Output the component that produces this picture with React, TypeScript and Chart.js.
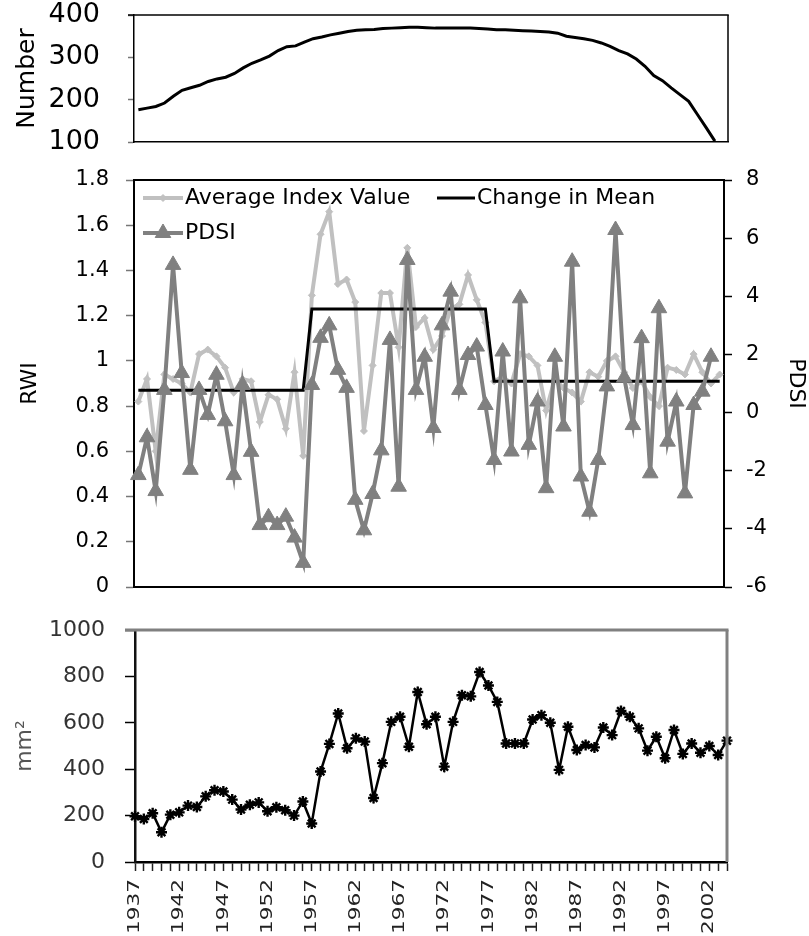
import { useEffect, useRef } from 'react';
import { Chart, registerables } from 'chart.js';
import { drawPoint } from 'chart.js/helpers';

Chart.register(...registerables);

// Category axis shared by all three panels
const years = [
  '1937', '1938', '1939', '1940', '1941', '1942', '1943', '1944', '1945', '1946',
  '1947', '1948', '1949', '1950', '1951', '1952', '1953', '1954', '1955', '1956',
  '1957', '1958', '1959', '1960', '1961', '1962', '1963', '1964', '1965', '1966',
  '1967', '1968', '1969', '1970', '1971', '1972', '1973', '1974', '1975', '1976',
  '1977', '1978', '1979', '1980', '1981', '1982', '1983', '1984', '1985', '1986',
  '1987', '1988', '1989', '1990', '1991', '1992', '1993', '1994', '1995', '1996',
  '1997', '1998', '1999', '2000', '2001', '2002', '2003', '2004',
];

// Sample depth (number of series per year), 1937-2003
const treeCount = [
  176, 180, 184, 192, 208, 222, 228, 234, 243, 249,
  253, 262, 275, 286, 294, 303, 316, 325, 327, 336,
  344, 348, 353, 357, 361, 364, 365, 366, 368, 369,
  370, 371, 371, 370, 369, 369, 369, 369, 369, 368,
  367, 365, 365, 364, 363, 362, 361, 360, 357, 350,
  347, 344, 340, 334, 326, 316, 308, 296, 279, 257,
  245, 228, 212, 196, 165, 134, 102,
];

// Ring-width index, 1937-2004
const avgIndex = [
  0.82, 0.92, 0.60, 0.94, 0.92, 0.90, 0.86, 1.03, 1.05, 1.02,
  0.97, 0.86, 0.92, 0.91, 0.73, 0.85, 0.83, 0.70, 0.95, 0.58,
  1.29, 1.56, 1.66, 1.34, 1.36, 1.26, 0.69, 0.98, 1.30, 1.30,
  1.06, 1.50, 1.15, 1.19, 1.05, 1.11, 1.23, 1.25, 1.38, 1.27,
  1.17, 0.91, 0.93, 0.90, 1.03, 1.02, 0.98, 0.78, 0.92, 0.88,
  0.86, 0.82, 0.95, 0.93, 1.00, 1.02, 0.95, 0.88, 0.91, 0.84,
  0.80, 0.97, 0.96, 0.94, 1.03, 0.95, 0.90, 0.94,
];

// Regime means of the index (1937-1956, 1957-1977, 1978-2004)
const changeInMean = [
  0.87, 0.87, 0.87, 0.87, 0.87, 0.87, 0.87, 0.87, 0.87, 0.87,
  0.87, 0.87, 0.87, 0.87, 0.87, 0.87, 0.87, 0.87, 0.87, 0.87,
  1.23, 1.23, 1.23, 1.23, 1.23, 1.23, 1.23, 1.23, 1.23, 1.23,
  1.23, 1.23, 1.23, 1.23, 1.23, 1.23, 1.23, 1.23, 1.23, 1.23,
  1.23, 0.91, 0.91, 0.91, 0.91, 0.91, 0.91, 0.91, 0.91, 0.91,
  0.91, 0.91, 0.91, 0.91, 0.91, 0.91, 0.91, 0.91, 0.91, 0.91,
  0.91, 0.91, 0.91, 0.91, 0.91, 0.91, 0.91, 0.91,
];

// Palmer Drought Severity Index, 1937-2003
const pdsi = [
  -2.15, -0.85, -2.7, 0.78, 5.08, 1.36, -1.97, 0.78, -0.08, 1.3,
  -0.3, -2.15, 0.95, -1.35, -3.87, -3.6, -3.87, -3.58, -4.3, -5.17,
  0.95, 2.57, 3.0, 1.47, 0.85, -3.0, -4.05, -2.8, -1.3, 2.5,
  -2.55, 5.25, 0.78, 1.92, -0.53, 3.0, 4.16, 0.78, 1.98, 2.27,
  0.26, -1.63, 2.1, -1.34, 3.93, -1.11, 0.38, -2.6, 1.92, -0.48,
  5.19, -2.2, -3.41, -1.63, 0.9, 6.28, 1.2, -0.43, 2.56, -2.09,
  3.59, -1.0, 0.38, -2.78, 0.26, 0.72, 1.92,
];

// Mean basal area increment (mm²), 1937-2004
const basalArea = [
  197, 185, 210, 128, 204, 214, 243, 237, 283, 309,
  304, 269, 226, 247, 257, 219, 236, 223, 200, 261,
  166, 390, 509, 640, 490, 533, 519, 276, 426, 604,
  626, 497, 733, 594, 626, 411, 604, 719, 714, 819,
  761, 690, 511, 511, 511, 614, 633, 600, 397, 583,
  483, 504, 494, 580, 547, 651, 626, 576, 480, 540,
  447, 569, 466, 511, 471, 500, 461, 523,
];

// Years written under the bottom axis
const yearTicks = [
  '1937', '1942', '1947', '1952', '1957', '1962', '1967',
  '1972', '1977', '1982', '1987', '1992', '1997', '2002',
];

const FONT = '"DejaVu Sans", "Liberation Sans", sans-serif';

// Plain number text: no digit grouping, no trailing zeros
const plain = (v: number | string) => String(Number(Number(v).toFixed(2)));

// Keeps the plot box at the size given by the layout padding
const fixWidth = (w: number) => (s: any) => {
  s.width = w;
  s.paddingTop = 0;
  s.paddingBottom = 0;
};

// Closes the plot box on the sides that carry no axis
const framePlugin = {
  id: 'frame',
  afterDatasetsDraw(chart: any, _args: any, opts: any) {
    const { ctx, chartArea: a } = chart;
    ctx.save();
    if (opts.top) {
      ctx.strokeStyle = opts.top.color;
      ctx.lineWidth = opts.top.width;
      ctx.beginPath();
      ctx.moveTo(a.left - (opts.top.extend || 0), a.top);
      ctx.lineTo(a.right + opts.top.width / 2, a.top);
      ctx.stroke();
    }
    if (opts.right) {
      ctx.strokeStyle = opts.right.color;
      ctx.lineWidth = opts.right.width;
      ctx.beginPath();
      ctx.moveTo(a.right, a.top);
      ctx.lineTo(a.right, a.bottom);
      ctx.stroke();
    }
    ctx.restore();
  },
};

// Legend placed inside the plot area, built from the dataset styles
const insideLegend = {
  id: 'insideLegend',
  afterDraw(chart: any, _args: any, opts: any) {
    const { ctx } = chart;
    ctx.save();
    ctx.font = opts.font;
    ctx.textBaseline = 'middle';
    ctx.textAlign = 'left';
    for (const item of opts.items) {
      const ds = chart.data.datasets[item.index];
      ctx.strokeStyle = ds.borderColor;
      ctx.lineWidth = ds.borderWidth;
      ctx.beginPath();
      ctx.moveTo(item.x, item.y);
      ctx.lineTo(item.x + item.len, item.y);
      ctx.stroke();
      if (ds.pointRadius > 0) {
        ctx.fillStyle = ds.pointBackgroundColor;
        ctx.strokeStyle = ds.pointBorderColor;
        ctx.lineWidth = 1;
        drawPoint(
          ctx,
          { pointStyle: ds.pointStyle, radius: ds.pointRadius, borderWidth: 1, rotation: 0 } as any,
          item.x + item.len / 2,
          item.y
        );
      }
      ctx.fillStyle = opts.color;
      ctx.fillText(ds.label, item.x + item.len + 2, item.y);
    }
    ctx.restore();
  },
};

// Rotated year labels, stretched along the reading direction
const yearLabels = {
  id: 'yearLabels',
  afterDraw(chart: any, _args: any, opts: any) {
    const { ctx } = chart;
    const xs = chart.scales.x;
    ctx.save();
    ctx.fillStyle = opts.color;
    ctx.font = opts.font;
    ctx.textAlign = 'right';
    ctx.textBaseline = 'middle';
    for (const lab of opts.labels) {
      const idx = chart.data.labels.indexOf(lab);
      const px = xs.getPixelForValue(idx);
      ctx.save();
      ctx.translate(px, xs.bottom + opts.gap);
      ctx.rotate(-Math.PI / 2);
      ctx.scale(opts.stretch, 1);
      ctx.fillText(lab, 0, 0);
      ctx.restore();
    }
    ctx.restore();
  },
};

const W = 809;

export default function App() {
  const topRef = useRef<HTMLCanvasElement>(null);
  const midRef = useRef<HTMLCanvasElement>(null);
  const botRef = useRef<HTMLCanvasElement>(null);

  useEffect(() => {
    const charts: Chart[] = [];

    // Panel 1: sample depth
    charts.push(
      new Chart(topRef.current!, {
        type: 'line',
        data: {
          labels: years,
          datasets: [
            {
              label: 'Number',
              data: treeCount,
              borderColor: '#000',
              borderWidth: 3,
              pointRadius: 0,
              tension: 0,
            },
          ],
        },
        options: {
          animation: false,
          responsive: false,
          events: [],
          layout: { padding: { left: 0, right: W - 728, top: 15, bottom: 10 } },
          plugins: {
            legend: { display: false },
            tooltip: { enabled: false },
            frame: { top: { color: '#000', width: 1.5, extend: 6 }, right: { color: '#000', width: 1.5 } },
          } as any,
          scales: {
            x: {
              type: 'category',
              offset: true,
              ticks: { display: false },
              grid: { display: true, drawOnChartArea: false, drawTicks: false },
              border: { color: '#000', width: 1.5 },
            },
            y: {
              min: 100,
              max: 400,
              ticks: {
                stepSize: 100,
                color: '#000',
                padding: 28,
                font: { family: FONT, size: 27, lineHeight: 1 },
                callback: plain,
              },
              grid: { drawOnChartArea: false, drawTicks: true, tickLength: 6, tickColor: '#777', tickWidth: 1.5 },
              border: { color: '#000', width: 1.5 },
              title: {
                display: true,
                text: 'Number',
                color: '#000',
                font: { family: FONT, size: 25 },
                padding: { top: 12, bottom: 0 },
              },
              afterFit: fixWidth(134),
            },
          },
        },
        plugins: [framePlugin],
      })
    );

    // Panel 2: ring-width index, regime means and drought index
    charts.push(
      new Chart(midRef.current!, {
        type: 'line',
        data: {
          labels: years,
          datasets: [
            {
              label: 'Average Index Value',
              data: avgIndex,
              yAxisID: 'y',
              borderColor: '#c0c0c0',
              backgroundColor: '#c0c0c0',
              pointBackgroundColor: '#c0c0c0',
              pointBorderColor: '#c0c0c0',
              borderWidth: 4,
              pointStyle: 'rectRot',
              pointRadius: 3.5,
              pointBorderWidth: 1,
              tension: 0,
              order: 2,
            },
            {
              label: 'Change in Mean',
              data: changeInMean,
              yAxisID: 'y',
              borderColor: '#000',
              backgroundColor: '#000',
              borderWidth: 3,
              pointRadius: 0,
              tension: 0,
              order: 1,
            },
            {
              label: 'PDSI',
              data: pdsi,
              yAxisID: 'y1',
              borderColor: '#808080',
              backgroundColor: '#808080',
              pointBackgroundColor: '#808080',
              pointBorderColor: '#808080',
              borderWidth: 4,
              pointStyle: 'triangle',
              pointRadius: 9,
              pointBorderWidth: 1,
              tension: 0,
              order: 0,
            },
          ],
        },
        options: {
          animation: false,
          responsive: false,
          events: [],
          layout: { padding: { left: 0, right: 0, top: 28, bottom: 13 } },
          plugins: {
            legend: { display: false },
            tooltip: { enabled: false },
            frame: { top: { color: '#000', width: 2 } },
            insideLegend: {
              font: `22px ${FONT}`,
              color: '#000',
              items: [
                { index: 0, x: 143, y: 46, len: 40 },
                { index: 1, x: 437, y: 46, len: 38 },
                { index: 2, x: 143, y: 81, len: 40 },
              ],
            },
          } as any,
          scales: {
            x: {
              type: 'category',
              offset: true,
              ticks: { display: false },
              grid: { display: true, drawOnChartArea: false, drawTicks: false },
              border: { color: '#000', width: 2 },
            },
            y: {
              position: 'left',
              min: 0,
              max: 1.8,
              ticks: {
                stepSize: 0.2,
                color: '#000',
                padding: 17,
                font: { family: FONT, size: 21, lineHeight: 1 },
                callback: plain,
              },
              grid: { drawOnChartArea: false, drawTicks: true, tickLength: 8, tickColor: '#777', tickWidth: 1.5 },
              border: { color: '#000', width: 2 },
              title: {
                display: true,
                text: 'RWI',
                color: '#000',
                font: { family: FONT, size: 22 },
                padding: { top: 17, bottom: 0 },
              },
              afterFit: fixWidth(134),
            },
            y1: {
              position: 'right',
              min: -6,
              max: 8,
              ticks: {
                stepSize: 2,
                color: '#000',
                padding: 14,
                font: { family: FONT, size: 21, lineHeight: 1 },
                callback: plain,
              },
              grid: { drawOnChartArea: false, drawTicks: true, tickLength: 8, tickColor: '#000', tickWidth: 1.5 },
              border: { color: '#000', width: 2 },
              title: {
                display: true,
                text: 'PDSI',
                color: '#000',
                font: { family: FONT, size: 22 },
                padding: { top: 0, bottom: 0 },
              },
              afterFit: fixWidth(W - 724),
            },
          },
        },
        plugins: [framePlugin, insideLegend],
      })
    );

    // Panel 3: basal area increment
    charts.push(
      new Chart(botRef.current!, {
        type: 'line',
        data: {
          labels: years,
          datasets: [
            {
              label: 'mm²',
              data: basalArea,
              borderColor: '#000',
              backgroundColor: '#000',
              pointBackgroundColor: '#000',
              pointBorderColor: '#000',
              borderWidth: 2.5,
              pointStyle: 'star',
              pointRadius: 5.5,
              pointBorderWidth: 2.4,
              tension: 0,
            },
          ],
        },
        options: {
          animation: false,
          responsive: false,
          events: [],
          layout: { padding: { left: 0, right: W - 727, top: 30, bottom: 65 } },
          plugins: {
            legend: { display: false },
            tooltip: { enabled: false },
            frame: { top: { color: '#808080', width: 3, extend: 10 }, right: { color: '#808080', width: 3 } },
            yearLabels: {
              labels: yearTicks,
              font: `16px ${FONT}`,
              color: '#222',
              gap: 8,
              stretch: 1.35,
            },
          } as any,
          scales: {
            x: {
              type: 'category',
              offset: false,
              ticks: { display: false, autoSkip: false },
              grid: { display: true, drawOnChartArea: false, drawTicks: true, tickLength: 9, tickColor: '#222', tickWidth: 1.5 },
              border: { color: '#000', width: 2.5 },
            },
            y: {
              min: 0,
              max: 1000,
              ticks: {
                stepSize: 200,
                color: '#333',
                padding: 20,
                font: { family: FONT, size: 22, lineHeight: 1 },
                callback: plain,
              },
              grid: { drawOnChartArea: false, drawTicks: true, tickLength: 10, tickColor: '#000', tickWidth: 1.5 },
              border: { color: '#111', width: 2.5 },
              title: {
                display: true,
                text: 'mm²',
                color: '#555',
                font: { family: FONT, size: 22 },
                padding: { top: 12, bottom: 0 },
              },
              afterFit: fixWidth(135),
            },
          },
        },
        plugins: [framePlugin, yearLabels],
      })
    );

    return () => charts.forEach((c) => c.destroy());
  }, []);

  const canvasStyle = (top: number) =>
    ({ position: 'absolute', left: 0, top, display: 'block' } as const);

  return (
    <div style={{ position: 'absolute', left: 0, top: 0, width: W, height: 936, background: '#fff' }}>
      <canvas ref={topRef} width={W} height={152} style={canvasStyle(0)} />
      <canvas ref={midRef} width={W} height={448} style={canvasStyle(152)} />
      <canvas ref={botRef} width={W} height={336} style={canvasStyle(600)} />
    </div>
  );
}
